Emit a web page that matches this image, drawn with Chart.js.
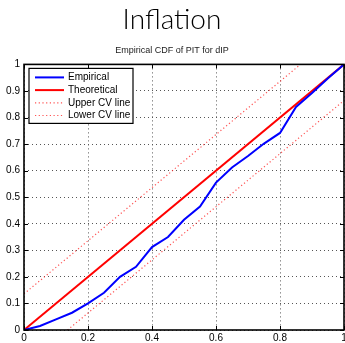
<!DOCTYPE html>
<html>
<head>
<meta charset="utf-8">
<script src="https://cdn.jsdelivr.net/npm/chart.js@4.4.0/dist/chart.umd.min.js"></script>
<style>
  html, body { margin: 0; padding: 0; background: #fff; }
  #wrap { width: 345px; height: 343px; position: relative; }
</style>
</head>
<body>
<div id="wrap"><canvas id="cdf"></canvas></div>
<script>
// PIT grid and empirical CDF
var pitX = [0, 0.05, 0.1, 0.15, 0.2, 0.25, 0.3, 0.35, 0.4, 0.45, 0.5, 0.55, 0.6, 0.65, 0.7, 0.75, 0.8, 0.85, 0.9, 0.95, 1];
var empirical = [0, 0.015, 0.04, 0.065, 0.1, 0.14, 0.2, 0.238, 0.312, 0.35, 0.415, 0.465, 0.555, 0.612, 0.655, 0.702, 0.742, 0.84, 0.892, 0.948, 1];

// reference lines (end points)
var theoX = [0, 1];
var theoY = [0, 1];
var upperX = [0, 0.864];
var upperY = [0.136, 1];
var lowerX = [0.136, 1];
var lowerY = [0, 0.864];

var xTicks = [0, 0.2, 0.4, 0.6, 0.8, 1];
var yTicks = [0, 0.1, 0.2, 0.3, 0.4, 0.5, 0.6, 0.7, 0.8, 0.9, 1];

function pairs(xs, ys) {
  var out = [];
  for (var i = 0; i < xs.length; i++) out.push({ x: xs[i], y: ys[i] });
  return out;
}

function fmt(v) { return String(+v.toFixed(1)); }

// frame + inside tick marks, matlab style
var framePlugin = {
  id: 'frame',
  afterDatasetsDraw: function (chart) {
    var ctx = chart.ctx, a = chart.chartArea;
    var xs = chart.scales.x, ys = chart.scales.y;
    ctx.save();
    ctx.strokeStyle = '#000';
    ctx.lineWidth = 1;
    ctx.beginPath();
    xTicks.forEach(function (v) {
      var px = Math.round(xs.getPixelForValue(v)) + 0.5;
      ctx.moveTo(px, a.bottom); ctx.lineTo(px, a.bottom - 4);
      ctx.moveTo(px, a.top); ctx.lineTo(px, a.top + 4);
    });
    yTicks.forEach(function (v) {
      var py = Math.round(ys.getPixelForValue(v)) + 0.5;
      ctx.moveTo(a.left, py); ctx.lineTo(a.left + 4, py);
      ctx.moveTo(a.right, py); ctx.lineTo(a.right - 4, py);
    });
    ctx.stroke();
    ctx.lineWidth = 1.6;
    ctx.strokeRect(a.left, a.top, a.right - a.left, a.bottom - a.top);
    ctx.restore();
  }
};

// boxed legend inside the axes (top left)
var legendPlugin = {
  id: 'boxLegend',
  afterDraw: function (chart) {
    var ctx = chart.ctx, a = chart.chartArea;
    var x0 = a.left + 5, y0 = a.top + 4, w = 104, h = 55, rowH = 12.7;
    ctx.save();
    ctx.fillStyle = '#fff';
    ctx.fillRect(x0, y0, w, h);
    ctx.strokeStyle = '#000';
    ctx.lineWidth = 1.2;
    ctx.strokeRect(x0, y0, w, h);
    ctx.font = '10px "Liberation Sans", Arial, sans-serif';
    ctx.textBaseline = 'middle';
    chart.data.datasets.forEach(function (ds, i) {
      var y = y0 + 9 + i * rowH;
      ctx.beginPath();
      ctx.strokeStyle = ds.borderColor;
      ctx.lineWidth = ds.borderWidth;
      ctx.setLineDash(ds.borderDash || []);
      ctx.moveTo(x0 + 6, y);
      ctx.lineTo(x0 + 35, y);
      ctx.stroke();
      ctx.setLineDash([]);
      ctx.fillStyle = '#000';
      ctx.fillText(ds.label, x0 + 39, y);
    });
    ctx.restore();
  }
};

var gridOpts = {
  color: '#555',
  lineWidth: 1,
  drawTicks: false
};

new Chart(document.getElementById('cdf'), {
  type: 'line',
  data: {
    datasets: [
      { label: 'Empirical', data: pairs(pitX, empirical), borderColor: '#0000ff', borderWidth: 2, pointRadius: 0, tension: 0 },
      { label: 'Theoretical', data: pairs(theoX, theoY), borderColor: '#ff0000', borderWidth: 2, pointRadius: 0 },
      { label: 'Upper CV line', data: pairs(upperX, upperY), borderColor: 'rgba(255,40,40,0.8)', borderWidth: 1.2, borderDash: [1.2, 2.5], pointRadius: 0 },
      { label: 'Lower CV line', data: pairs(lowerX, lowerY), borderColor: 'rgba(255,40,40,0.8)', borderWidth: 1.2, borderDash: [1.2, 2.5], pointRadius: 0 }
    ]
  },
  options: {
    responsive: true,
    maintainAspectRatio: false,
    animation: false,
    layout: { padding: { left: 0, right: 1, top: 0, bottom: 0 } },
    plugins: {
      legend: { display: false },
      tooltip: { enabled: false },
      title: {
        display: true,
        text: 'Inflation',
        color: '#000',
        font: { family: 'Lato, "DejaVu Sans", sans-serif', size: 28, weight: '300' },
        padding: { top: 3, bottom: 9 }
      },
      subtitle: {
        display: true,
        text: 'Empirical CDF of PIT for dIP',
        color: '#222',
        font: { family: '"Liberation Sans", Arial, sans-serif', size: 9 },
        padding: { top: 0, bottom: 8 }
      }
    },
    scales: {
      x: {
        type: 'linear',
        min: 0, max: 1,
        border: { display: false, dash: [1, 3] },
        grid: gridOpts,
        ticks: {
          color: '#000',
          padding: 2,
          maxRotation: 0,
          font: { family: '"Liberation Sans", Arial, sans-serif', size: 10 },
          callback: function (v) { return fmt(v); }
        },
        afterBuildTicks: function (s) { s.ticks = xTicks.map(function (v) { return { value: v }; }); },
        afterFit: function (s) { s.height = 13; s.paddingLeft = 0; s.paddingRight = 0; }
      },
      y: {
        type: 'linear',
        min: 0, max: 1,
        border: { display: false, dash: [1, 3] },
        grid: gridOpts,
        ticks: {
          color: '#000',
          padding: 4,
          font: { family: '"Liberation Sans", Arial, sans-serif', size: 10 },
          callback: function (v) { return fmt(v); }
        },
        afterBuildTicks: function (s) { s.ticks = yTicks.map(function (v) { return { value: v }; }); },
        afterFit: function (s) { s.width = 24; s.paddingTop = 0; s.paddingBottom = 0; }
      }
    }
  },
  plugins: [framePlugin, legendPlugin]
});
</script>
</body>
</html>
